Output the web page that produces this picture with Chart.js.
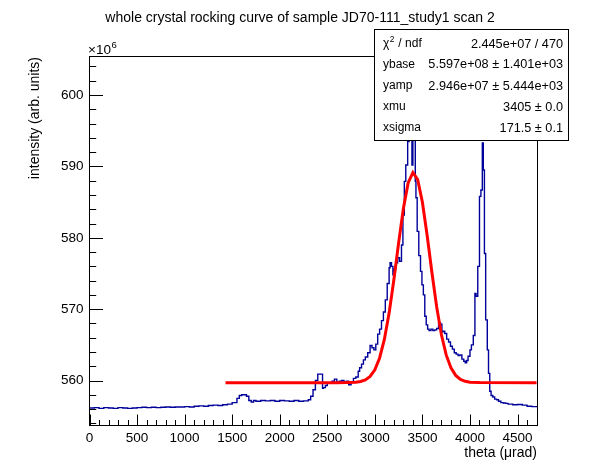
<!DOCTYPE html>
<html><head><meta charset="utf-8">
<script src="https://cdn.jsdelivr.net/npm/chart.js@4"></script>
<style>html,body{margin:0;padding:0;background:#fff;}canvas{display:block;}</style>
</head><body>
<canvas id="c" width="598" height="474"></canvas>
<script>
const chartTitle = 'whole crystal rocking curve of sample JD70-111_study1 scan 2';
const xAxisTitle = 'theta (\u03BCrad)';
const yAxisTitle = 'intensity (arb. units)';
const xTicks = [0,500,1000,1500,2000,2500,3000,3500,4000,4500];
const yTicks = [560,570,580,590,600];
// histogram bin left edges (last entry = right edge of last bin), theta in µrad
const thetaEdges = [0,50,100,150,200,250,300,350,400,450,500,550,600,650,700,750,800,850,900,950,
 1000,1050,1100,1150,1200,1250,1300,1350,1400,1450,1500,1550,1575,1600,1625,1650,1675,1700,1725,1750,
 1800,1850,1900,1950,2000,2050,2100,2150,2200,2250,2300,2325,2350,2375,2400,2425,2450,2460,2480,2500,
 2525,2550,2575,2600,2625,2650,2675,2700,2725,2750,2775,2800,2825,2840,2860,2880,2900,2925,2950,2970,
 2990,3010,3030,3050,3070,3090,3110,3130,3150,3160,3175,3190,3205,3220,3240,3260,3280,3295,3310,3325,
 3345,3360,3375,3390,3400,3412,3425,3432,3445,3462,3480,3495,3510,3525,3540,3555,3570,3590,3610,3630,
 3650,3670,3690,3705,3715,3735,3755,3775,3795,3815,3835,3855,3875,3895,3915,3935,3950,3965,3980,4000,
 4015,4035,4052,4064,4082,4100,4115,4130,4140,4152,4165,4182,4195,4208,4222,4240,4260,4280,4300,4325,
 4350,4375,4400,4450,4500,4550,4600,4650,4700,4710];
// intensity per bin, units of 10^6
const intensity = [556.2,556.15,556.2,556.1,556.2,556.15,556.1,556.2,556.15,556.1,556.15,556.2,556.25,556.2,556.25,556.2,556.25,556.3,556.25,556.3,
 556.3,556.35,556.3,556.4,556.45,556.4,556.5,556.55,556.5,556.6,556.7,556.9,557.5,557.9,558.0,558.0,557.8,557.2,557.0,557.2,
 557.1,557.2,557.15,557.2,557.1,557.2,557.15,557.1,557.2,557.1,557.15,557.3,557.8,558.7,560.0,560.9,560.9,558.9,559.0,559.3,
 559.6,559.7,559.9,560.2,559.8,559.9,560.0,559.8,559.9,559.4,559.8,560.3,560.5,561.3,561.8,562.3,562.9,563.3,563.9,564.9,
 564.6,564.3,565.1,566.5,567.2,568.4,569.6,571.3,573.6,575.8,576.5,576.0,574.8,575.6,576.5,577.2,576.7,579.0,583.2,587.9,
 590.2,593.5,598.5,597.0,590.2,599.0,597.0,587.9,585.6,580.9,577.5,575.3,573.4,572.0,569.0,567.8,567.2,567.0,567.2,567.0,
 567.1,567.3,568.1,567.9,566.8,566.9,566.6,565.8,565.4,564.8,564.4,563.9,563.7,563.5,563.6,563.0,562.7,562.5,562.8,563.4,
 564.3,565.0,566.3,572.2,571.8,576.0,585.8,586.7,593.3,589.5,577.8,568.5,564.3,561.0,558.5,557.9,557.7,557.4,557.3,557.1,
 556.9,556.85,556.8,556.7,556.6,556.65,556.55,556.4,556.35];
// fitted curve (units of 10^6)
const fitTheta = [1430,2600,2700,2800,2850,2900,2950,3000,3050,3100,3150,3200,3250,3300,3350,3400,3450,3500,3550,3600,3650,3700,3750,3800,3850,3900,3950,4000,4100,4700];
const fitIntensity = [559.7,559.7,559.71,559.76,559.86,560.09,560.57,561.51,563.16,565.76,569.45,574.12,579.28,584.12,587.69,589.15,588.16,584.98,580.31,575.14,570.32,566.41,563.59,561.78,560.72,560.16,559.89,559.77,559.72,559.7];
const statsNames = ['\u03C7', 'ybase', 'yamp', 'xmu', 'xsigma'];
const statsValues = ['2.445e+07 / 470', '5.597e+08 \u00B1 1.401e+03', '2.946e+07 \u00B1 5.444e+03', '3405 \u00B1 0.0', '171.5 \u00B1 0.1'];

const FONT = '"Liberation Sans", Arial, Helvetica, sans-serif';
const histData = thetaEdges.map((x, i) => ({x, y: intensity[Math.min(i, intensity.length - 1)]}));
const fitData = fitTheta.map((x, i) => ({x, y: fitIntensity[i]}));

const AREA = {left: 89.5, top: 56.5, right: 537.5, bottom: 425.5, W: 598, H: 474};

const rootDecor = {
  id: 'rootDecor',
  afterDraw(chart) {
    const {ctx, chartArea: a, scales: {x, y}} = chart;
    ctx.save();
    ctx.strokeStyle = '#000';
    ctx.lineWidth = 1;
    ctx.beginPath();
    for (let v = 0; v <= x.max; v += 100) {
      const px = Math.round(x.getPixelForValue(v)) + 0.5;
      const len = v % 500 === 0 ? 11 : 5.5;
      ctx.moveTo(px, a.bottom); ctx.lineTo(px, a.bottom - len);
    }
    for (let v = Math.ceil(y.min / 2) * 2; v <= y.max; v += 2) {
      const py = Math.round(y.getPixelForValue(v)) + 0.5;
      const len = v % 10 === 0 ? 13.5 : 6.7;
      ctx.moveTo(a.left, py); ctx.lineTo(a.left + len, py);
    }
    ctx.stroke();
    ctx.strokeRect(a.left, a.top, a.right - a.left, a.bottom - a.top);

    ctx.fillStyle = '#000';
    // title
    ctx.font = '14px ' + FONT;
    ctx.textAlign = 'center'; ctx.textBaseline = 'middle';
    ctx.fillText(chartTitle, 300, 18);
    // x title
    ctx.font = '14px ' + FONT;
    ctx.textAlign = 'right';
    ctx.fillText(xAxisTitle, 537, 453);
    // y title
    ctx.save();
    ctx.translate(35, 57); ctx.rotate(-Math.PI / 2);
    ctx.textAlign = 'right'; ctx.textBaseline = 'middle';
    ctx.fillText(yAxisTitle, 0, 0);
    ctx.restore();
    // exponent
    ctx.textAlign = 'left'; ctx.textBaseline = 'alphabetic';
    ctx.font = '13.5px ' + FONT;
    ctx.fillText('\u00D710', 88, 54);
    const w10 = ctx.measureText('\u00D710').width;
    ctx.font = '9.5px ' + FONT;
    ctx.fillText('6', 88 + w10 + 0.5, 48);

    // stats box
    ctx.fillStyle = '#fff';
    ctx.fillRect(374.5, 29.5, 194, 111);
    ctx.strokeRect(374.5, 29.5, 194, 111);
    ctx.fillStyle = '#000';
    const rows = [44, 64.8, 86, 107, 128];
    ctx.textBaseline = 'middle';
    statsNames.forEach((n, i) => {
      ctx.font = '12px ' + FONT;
      ctx.textAlign = 'left';
      ctx.fillText(n, 383, rows[i]);
      if (i === 0) {
        const wc = ctx.measureText(n).width;
        ctx.font = '8.5px ' + FONT;
        ctx.fillText('2', 383 + wc + 0.5, rows[i] - 4);
        const w2 = ctx.measureText('2').width;
        ctx.font = '12px ' + FONT;
        ctx.fillText(' / ndf', 383 + wc + w2 + 1, rows[i]);
      }
      ctx.font = '12.7px ' + FONT;
      ctx.textAlign = 'right';
      ctx.fillText(statsValues[i], 563, rows[i]);
    });
    ctx.restore();
  }
};

new Chart(document.getElementById('c'), {
  type: 'line',
  data: {
    datasets: [
      {data: fitData, borderColor: '#ff0000', borderWidth: 3, pointRadius: 0, tension: 0, fill: false},
      {data: histData, borderColor: '#00009a', borderWidth: 1.4, pointRadius: 0, stepped: 'after', fill: false}
    ]
  },
  options: {
    responsive: false, animation: false, devicePixelRatio: 1,
    layout: {padding: {top: AREA.top, right: AREA.W - AREA.right, left: 0, bottom: 0}},
    plugins: {legend: {display: false}, tooltip: {enabled: false}, title: {display: false}},
    scales: {
      x: {
        type: 'linear', min: 0, max: 4710,
        grid: {display: false, drawTicks: false}, border: {display: false},
        afterBuildTicks: s => { s.ticks = xTicks.map(v => ({value: v})); },
        afterFit: s => { s.height = AREA.H - AREA.bottom; },
        ticks: {color: '#000', font: {family: FONT, size: 13.5}, padding: 5, maxRotation: 0, autoSkip: false,
                callback: v => String(v)}
      },
      y: {
        type: 'linear', min: 553.7, max: 605.4,
        grid: {display: false, drawTicks: false}, border: {display: false},
        afterBuildTicks: s => { s.ticks = yTicks.map(v => ({value: v})); },
        afterFit: s => { s.width = AREA.left; },
        ticks: {color: '#000', font: {family: FONT, size: 13.5}, padding: 6, autoSkip: false,
                callback: v => String(v)}
      }
    }
  },
  plugins: [rootDecor]
});
</script>
</body></html>
